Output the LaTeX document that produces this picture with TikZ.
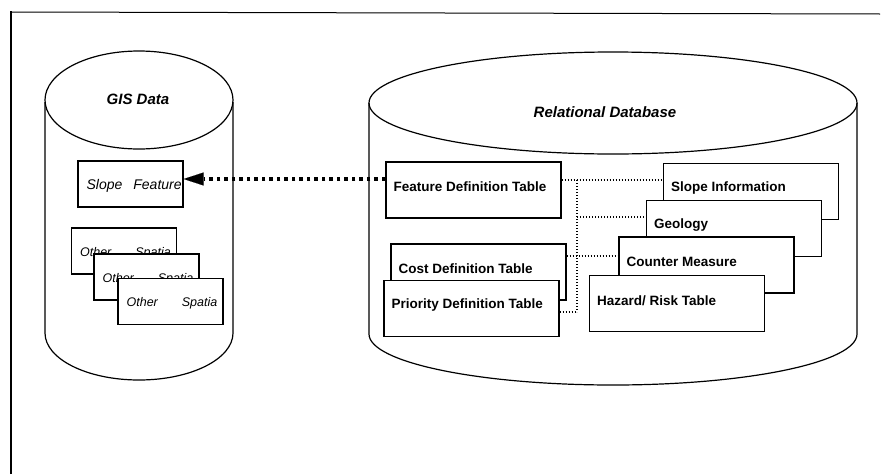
\documentclass[tikz,border=0pt]{standalone}
\usepackage{fontspec}
\setmainfont{Liberation Sans}
\usetikzlibrary{arrows.meta}

\tikzset{
  tablebox/.style={draw=black, line width=1.3pt, fill=white,
    minimum width=175pt, minimum height=56pt, inner sep=0pt},
  gisbox/.style={draw=black, line width=1.2pt, fill=white,
    minimum width=105pt, minimum height=46pt, inner sep=0pt},
  tabtext/.style={font=\bfseries\fontsize{13.5}{15}\selectfont, inner sep=0pt, anchor=west},
  gistext/.style={font=\itshape\fontsize{12.5}{15}\selectfont, inner sep=0pt, anchor=west},
  headtext/.style={font=\bfseries\itshape\fontsize{15}{17}\selectfont, inner sep=0pt},
  cyl/.style={line width=1.2pt},
  bus/.style={line width=1.3pt, dash pattern=on 1.3pt off 1.7pt},
  link/.style={line width=3.5pt, dash pattern=on 3.5pt off 4pt,
    -{Triangle[length=20pt, width=13pt, line width=0.1pt]}}
}

% table box with its label, lifted slightly above the centre line
\newcommand\tablebox[3]{%
  \node[tablebox] (#1) at (#2) {};
  \node[tabtext] (#1-text) at ([xshift=8pt, yshift=3pt]#1.west) {#3};
}
% layer box whose label is cut off at the box border
\newcommand\layerbox[3]{%
  \node[gisbox] (#1) at (#2) {};
  \begin{scope}
    \clip (#1.south west) rectangle (#1.north east);
    \node[gistext] (#1-text) at ([xshift=9pt, yshift=-2pt]#1.west) {#3};
  \end{scope}
}

\begin{document}
\begin{tikzpicture}[x=1pt, y=-1pt]
\useasboundingbox (0,0) rectangle (882,474);
\fill[white] (0,0) rectangle (882,474);

% page frame
\draw[line width=1.8pt] (11,474) -- (11,11);
\draw[line width=1pt] (11,12) -- (880,14);

% GIS data store
\draw[cyl] (45,102) -- (45,333)
  arc[start angle=180, end angle=360, x radius=94pt, y radius=47pt] -- (233,102);
\draw[cyl] (139,100) ellipse[x radius=94pt, y radius=49pt];
\node[headtext] (gis) at (138,99) {GIS Data};

% relational database store
\draw[cyl] (369,103) -- (369,334)
  arc[start angle=180, end angle=360, x radius=244pt, y radius=51pt] -- (857,103);
\draw[cyl] (613,103) ellipse[x radius=244pt, y radius=51pt];
\node[headtext] (rdb) at (605,112) {Relational Database};

% spatial layers
\layerbox{slopefeat}{130.5,184}{\fontsize{14}{15}\selectfont Slope\hspace{11pt}Feature}
\layerbox{other1}{124,251}{Other\hspace{24pt}Spatia}
\layerbox{other2}{146.5,277}{Other\hspace{24pt}Spatia}
\layerbox{other3}{170.5,301.5}{Other\hspace{24pt}Spatia}

% definition tables
\tablebox{feat}{473.5,190}{Feature Definition Table}
\tablebox{cost}{478.5,272}{Cost Definition Table}
\tablebox{prio}{471.5,308.5}{Priority Definition Table}

% slope data tables
\tablebox{slopeinfo}{751,191.5}{Slope Information}
\tablebox{geology}{734,228.5}{Geology}
\tablebox{counter}{706.5,265}{Counter Measure}
\tablebox{hazard}{677,303.5}{Hazard/ Risk Table}

% dotted links between tables
\coordinate (bustop) at (577,180);
\coordinate (busgeo) at (577,217);
\coordinate (buscost) at (577,256);
\coordinate (busbot) at (577,312);
\draw[bus] (feat.east |- bustop) -- (slopeinfo.west |- bustop);
\draw[bus] (bustop) -- (busbot);
\draw[bus] (busgeo) -- (geology.west |- busgeo);
\draw[bus] (cost.east |- buscost) -- (counter.west |- buscost);
\draw[bus] (prio.east |- busbot) -- (busbot);

% feature definition drives the slope feature layer
\coordinate (linkrow) at (0,179);
\draw[link] (feat.west |- linkrow) -- (slopefeat.east |- linkrow);
\end{tikzpicture}
\end{document}
